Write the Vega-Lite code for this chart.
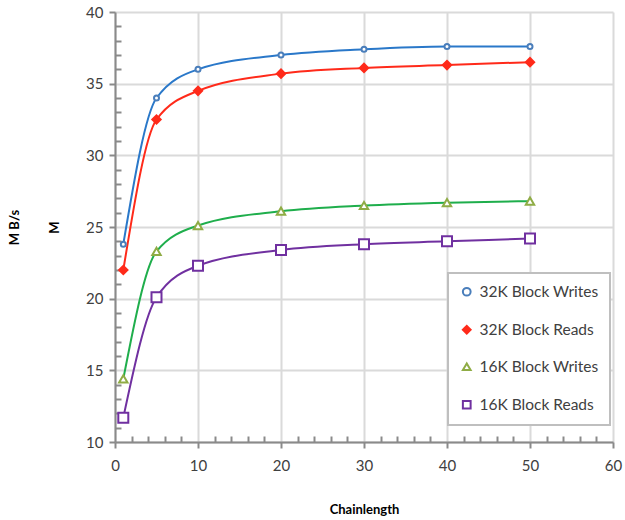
{
  "$schema": "https://vega.github.io/schema/vega-lite/v6.json",
  "width": 498,
  "height": 430,
  "autosize": {"type": "none"},
  "padding": {"left": 115, "top": 12, "right": 12, "bottom": 78},
  "background": "white",
  "config": {
    "view": {"stroke": null},
    "font": "Lato",
    "axis": {"labelFont": "Lato", "titleFont": "Lato", "labelColor": "#404040", "labelFontSize": 15, "titleFontSize": 13, "titleFontWeight": "bold", "titleColor": "#000000", "domainColor": "#8a8a8a", "domainWidth": 2, "tickColor": "#8a8a8a", "tickWidth": 2, "gridColor": "#dadada", "gridWidth": 2},
    "legend": {"orient": "none", "legendX": 333, "legendY": 261, "fillColor": "white", "strokeColor": "#bfbfbf", "strokeWidth": 2, "padding": 11, "rowPadding": 20, "labelFont": "Lato", "labelFontSize": 15.5, "labelColor": "#404040", "symbolStrokeWidth": 2, "symbolSize": 60, "labelOffset": 5}
  },
  "data": {"values": [
    {"series": "32K Block Writes", "x": 1, "y": 23.8},
    {"series": "32K Block Writes", "x": 5, "y": 34.0},
    {"series": "32K Block Writes", "x": 10, "y": 36.0},
    {"series": "32K Block Writes", "x": 20, "y": 37.0},
    {"series": "32K Block Writes", "x": 30, "y": 37.4},
    {"series": "32K Block Writes", "x": 40, "y": 37.6},
    {"series": "32K Block Writes", "x": 50, "y": 37.6},
    {"series": "32K Block Reads", "x": 1, "y": 22.0},
    {"series": "32K Block Reads", "x": 5, "y": 32.5},
    {"series": "32K Block Reads", "x": 10, "y": 34.5},
    {"series": "32K Block Reads", "x": 20, "y": 35.7},
    {"series": "32K Block Reads", "x": 30, "y": 36.1},
    {"series": "32K Block Reads", "x": 40, "y": 36.3},
    {"series": "32K Block Reads", "x": 50, "y": 36.5},
    {"series": "16K Block Writes", "x": 1, "y": 14.4},
    {"series": "16K Block Writes", "x": 5, "y": 23.3},
    {"series": "16K Block Writes", "x": 10, "y": 25.1},
    {"series": "16K Block Writes", "x": 20, "y": 26.1},
    {"series": "16K Block Writes", "x": 30, "y": 26.5},
    {"series": "16K Block Writes", "x": 40, "y": 26.7},
    {"series": "16K Block Writes", "x": 50, "y": 26.8},
    {"series": "16K Block Reads", "x": 1, "y": 11.7},
    {"series": "16K Block Reads", "x": 5, "y": 20.1},
    {"series": "16K Block Reads", "x": 10, "y": 22.3},
    {"series": "16K Block Reads", "x": 20, "y": 23.4},
    {"series": "16K Block Reads", "x": 30, "y": 23.8},
    {"series": "16K Block Reads", "x": 40, "y": 24.0},
    {"series": "16K Block Reads", "x": 50, "y": 24.2}
  ]},
  "encoding": {
    "x": {
      "field": "x", "type": "quantitative",
      "scale": {"domain": [0, 60], "nice": false, "zero": false},
      "axis": {
        "title": "Chainlength", "titlePadding": 30,
        "values": [0,2,4,6,8,10,12,14,16,18,20,22,24,26,28,30,32,34,36,38,40,42,44,46,48,50,52,54,56,58,60],
        "labelExpr": "datum.value % 10 === 0 ? datum.label : ''",
        "labelPadding": 10,
        "labelFlush": false,
        "tickSize": {"condition": {"test": "datum.value % 10 === 0", "value": 6}, "value": -6},
        "gridOpacity": {"condition": {"test": "datum.value % 10 === 0", "value": 1}, "value": 0}
      }
    },
    "y": {
      "field": "y", "type": "quantitative",
      "scale": {"domain": [10, 40], "nice": false, "zero": false},
      "axis": {
        "title": ["M B/s", "M"], "titleLineHeight": 40, "titlePadding": 24,
        "values": [10,11,12,13,14,15,16,17,18,19,20,21,22,23,24,25,26,27,28,29,30,31,32,33,34,35,36,37,38,39,40],
        "labelExpr": "datum.value % 5 === 0 ? datum.label : ''",
        "labelPadding": 6,
        "labelFlush": false,
        "tickSize": {"condition": {"test": "datum.value % 5 === 0", "value": 6}, "value": -6},
        "gridOpacity": {"condition": {"test": "datum.value % 5 === 0", "value": 1}, "value": 0}
      }
    }
  },
  "layer": [
    {
      "mark": {"type": "line", "interpolate": "monotone", "strokeWidth": 2},
      "encoding": {
        "stroke": {"field": "series", "type": "nominal", "legend": null,
          "scale": {"domain": ["32K Block Writes", "32K Block Reads", "16K Block Writes", "16K Block Reads"], "range": ["#2a78c9", "#ff2a1a", "#1fae4c", "#7030a0"]}}
      }
    },
    {
      "mark": {"type": "point", "strokeWidth": 2, "opacity": 1, "filled": false},
      "encoding": {
        "color": {"field": "series", "type": "nominal", "title": null,
          "scale": {"domain": ["32K Block Writes", "32K Block Reads", "16K Block Writes", "16K Block Reads"], "range": ["#4a7ebb", "#ff2a1a", "#8fac45", "#7030a0"]}},
        "fill": {"field": "series", "type": "nominal", "title": null,
          "scale": {"domain": ["32K Block Writes", "32K Block Reads", "16K Block Writes", "16K Block Reads"], "range": ["white", "#ff2a1a", "white", "white"]}},
        "shape": {"field": "series", "type": "nominal", "title": null,
          "scale": {"domain": ["32K Block Writes", "32K Block Reads", "16K Block Writes", "16K Block Reads"], "range": ["circle", "diamond", "triangle-up", "square"]}},
        "size": {
          "condition": [
            {"test": "datum.series === '32K Block Writes'", "value": 25},
            {"test": "datum.series === '16K Block Reads'", "value": 100}
          ],
          "value": 70
        }
      }
    }
  ],
  "resolve": {"legend": {"stroke": "independent"}}
}
